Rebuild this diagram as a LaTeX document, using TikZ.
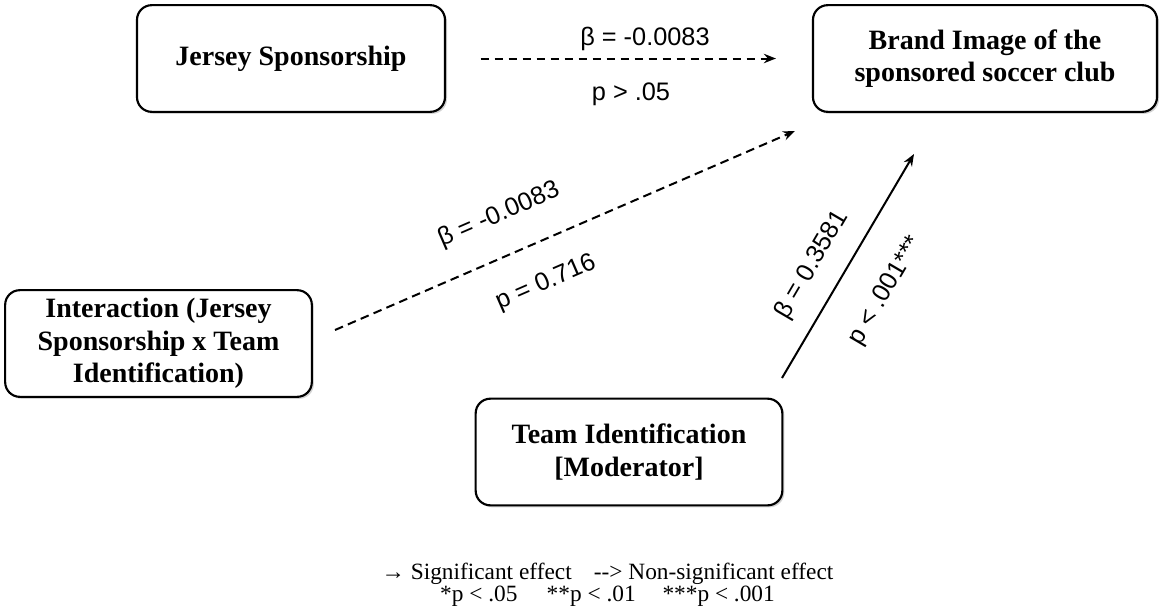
\documentclass[tikz,border=0pt]{standalone}
\usepackage{fontspec}
\setmainfont{Liberation Serif}
\newfontfamily\arialfont{Liberation Sans}
\usetikzlibrary{arrows.meta,shadows}

\begin{document}
\begin{tikzpicture}[x=0.75pt,y=-0.75pt]

    \tikzset{
      varbox/.style={
        draw,
        line width=1.6pt,
        rounded corners=11pt,
        fill=white,
        align=center,
        inner sep=0pt,
        font=\fontsize{21}{24.5}\selectfont\bfseries,
        drop shadow={shadow xshift=1.5pt,shadow yshift=-1.5pt,opacity=0.35},
      },
      path/.style={line width=1.5pt,-{Stealth[length=9pt,width=7pt]}},
      nspath/.style={path,dash pattern=on 6.5pt off 4pt},
      coef/.style={font=\arialfont\fontsize{19}{21}\selectfont,inner sep=0pt},
    }
    \useasboundingbox (0,0) rectangle (1161,615);

    % variables
    \node[varbox,minimum width=231pt,minimum height=80pt] (jersey) at (291,58.5) {Jersey Sponsorship};
    \node[varbox,minimum width=258pt,minimum height=80pt] (brand) at (985,58.5) {Brand Image of the\\sponsored soccer club};
    \node[varbox,minimum width=230pt,minimum height=80pt] (inter) at (158.5,343.5) {Interaction (Jersey\\Sponsorship x Team\\Identification)};
    \node[varbox,minimum width=230pt,minimum height=80pt] (team) at (629,452) {Team Identification\\{[Moderator]}};

    \coordinate (interout) at (335,330);
    \coordinate (brandin) at (795,131);
    \coordinate (teamout) at (782,378);
    \coordinate (brandlow) at (914,154);

    % paths
	\draw[nspath,shorten <=26pt,shorten >=27pt] (jersey) -- (brand);
	\draw[nspath] (interout) -- (brandin);
	\draw[path] (teamout) -- (brandlow);

    % coefficients
	\node[coef,anchor=base] (b1) at (645,45) {β = -0.0083};
	\node[coef,anchor=base] (p1) at (631,100) {p > .05};
	\node[coef,rotate=23.4] (b2) at (499,215) {β = -0.0083};
	\node[coef,rotate=23.4] (p2) at (546,283) {p = 0.716};
	\node[coef,rotate=59.6] (b3) at (812,265) {β = 0.3581};
	\node[coef,rotate=59.6] (p3) at (886,291) {p < .001***};

    % legend
	\node[anchor=base,align=center,inner sep=0pt,font=\fontsize{17.5}{16.5}\selectfont] (legend) at (607.5,601)
	  {→ Significant effect\hspace{0.7em} {-}{-}> Non-significant effect\\
	   *p < .05\hspace{1em} **p < .01\hspace{0.9em} ***p < .001};

\end{tikzpicture}
\end{document}
